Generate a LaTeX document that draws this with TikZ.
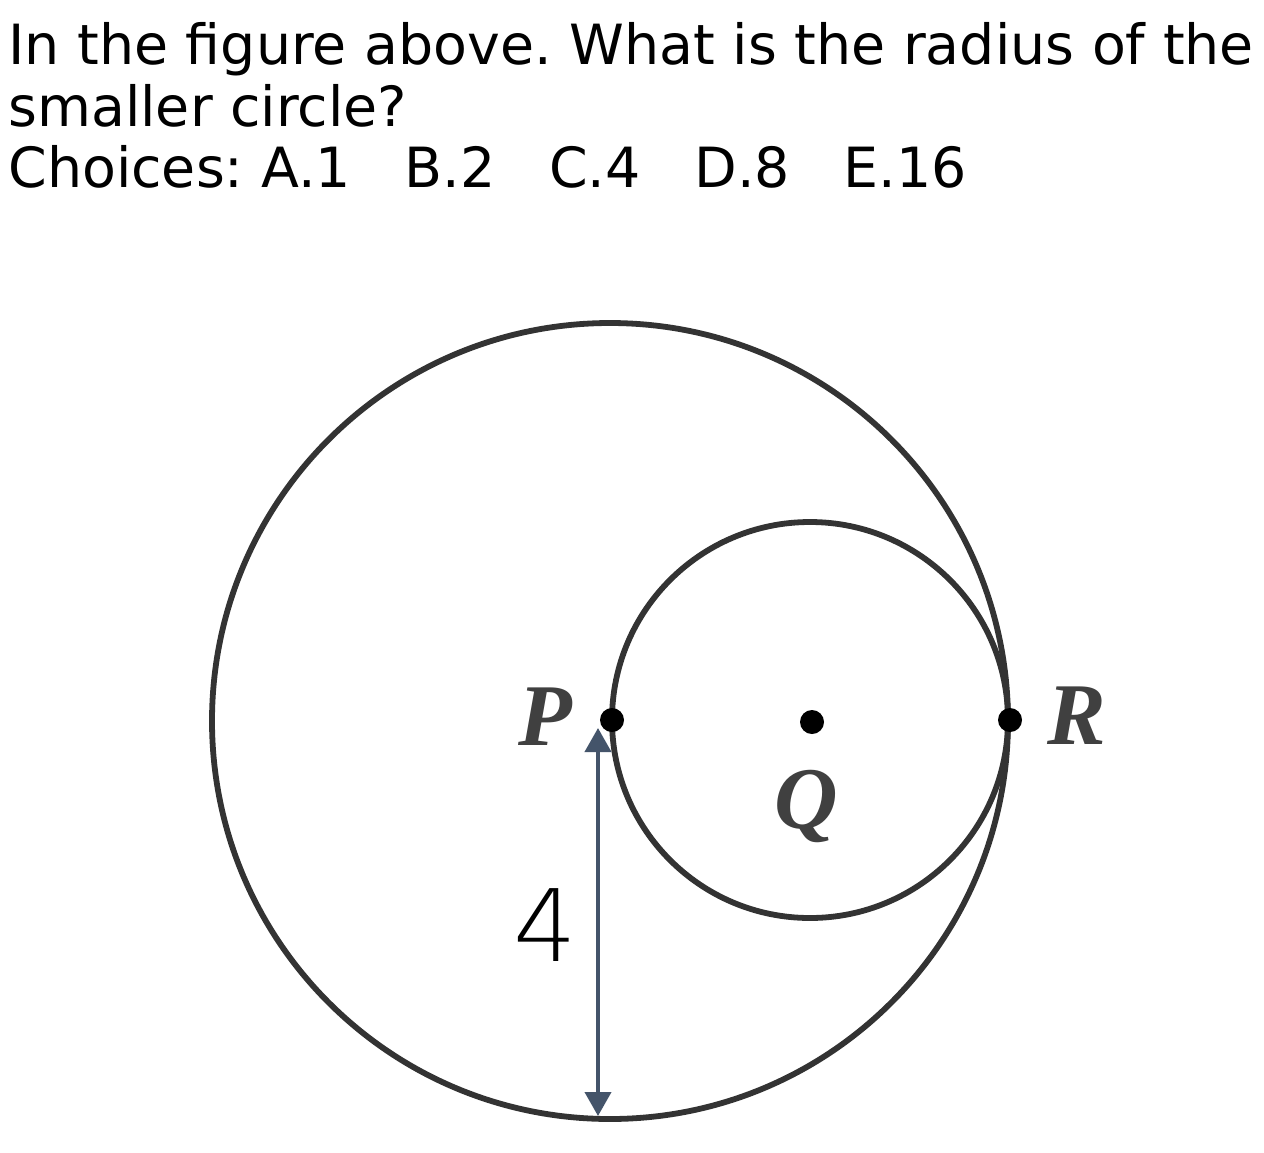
\documentclass[tikz,border=0pt]{standalone}
\usepackage{fontspec}
\setmainfont{DejaVu Sans}
\newfontfamily\labelfont{Liberation Serif}
\newfontfamily\numfont{DejaVu Sans ExtraLight}
\usetikzlibrary{arrows.meta}
\definecolor{arrowblue}{HTML}{44546A}
\definecolor{circgray}{HTML}{333333}
\tikzset{
  circ/.style={draw=circgray, line width=2.9pt},
  dotpt/.style={circle, fill=black, inner sep=0pt, minimum size=12pt},
  ptlabel/.style={font=\labelfont\bfseries\itshape\fontsize{44pt}{44pt}\selectfont, text=black!75, inner sep=0pt},
  qtext/.style={font=\fontsize{27.7pt}{30.5pt}\selectfont, anchor=base west, inner sep=0pt},
  meas/.style={draw=arrowblue, line width=2pt, {Triangle[width=13pt,length=12pt]}-{Triangle[width=13pt,length=12pt]}}
}
\begin{document}
\frenchspacing
\begin{tikzpicture}[x=0.5pt, y=-0.5pt]
\useasboundingbox[fill=white] (0,0) rectangle (1264,1152);
\node[qtext] (l1) at (8,64) {In the figure above. What is the radius of the};
\node[qtext] (l2) at (8,126) {smaller circle?};
\node[qtext] (l3) at (8,187) {Choices: A.1\hspace{0.97em}B.2\hspace{0.97em}C.4\hspace{0.97em}D.8\hspace{0.97em}E.16};
\draw[circ] (610,721) circle[radius=398];
\draw[circ] (810,720) circle[radius=198];
\node[dotpt] (P) at (612,720) {};
\node[dotpt] (R) at (1010,720) {};
\node[dotpt] (Q) at (812,722) {};
\node[ptlabel] (Plab) at (545,717) {P};
\node[ptlabel] (Rlab) at (1077,716) {R};
\node[ptlabel] (Qlab) at (806,806) {Q};
\coordinate (A1) at (598,728);
\coordinate (A2) at (598,1116);
\draw[meas] (A1) -- (A2);
\node[font=\numfont\fontsize{50pt}{50pt}\selectfont, inner sep=0pt] (four) at (545,925) {4};
\end{tikzpicture}
\end{document}
